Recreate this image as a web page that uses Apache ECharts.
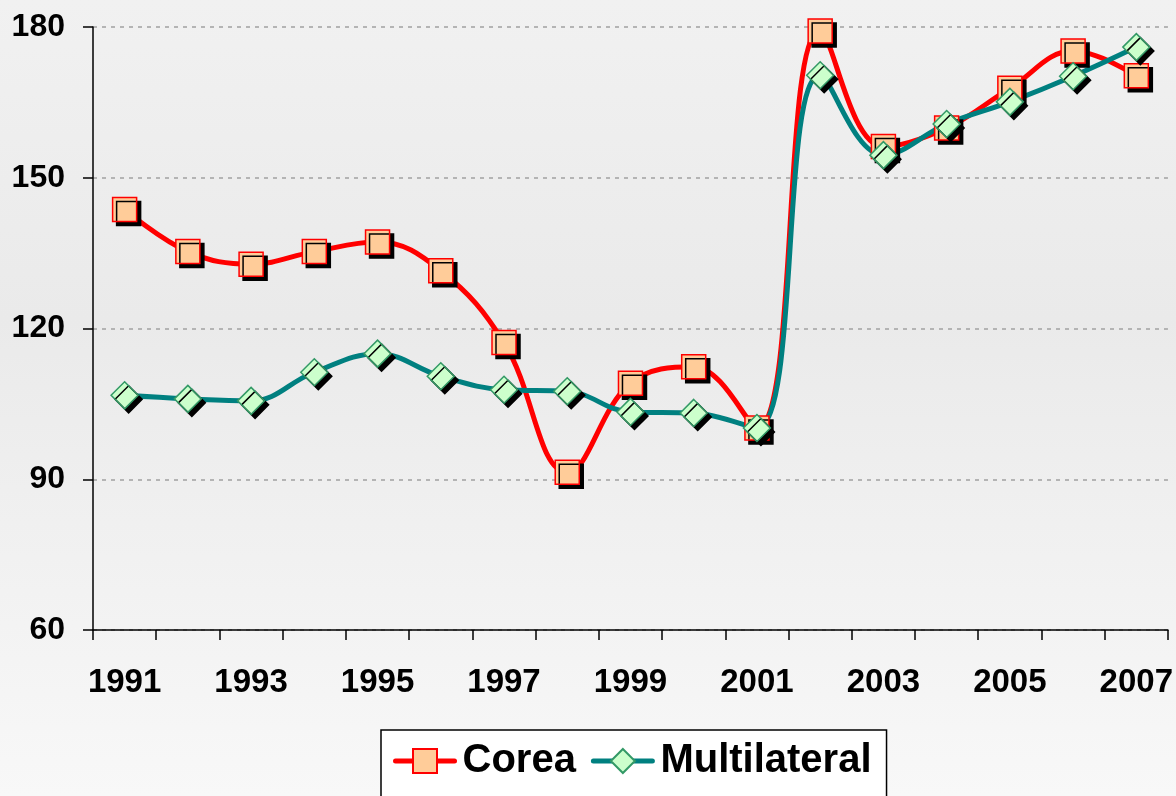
<!DOCTYPE html>
<html>
<head>
<meta charset="utf-8">
<script src="https://cdn.jsdelivr.net/npm/echarts@6/dist/echarts.min.js"></script>
<style>
  html, body { margin: 0; padding: 0; }
  #chart { width: 1176px; height: 796px; }
</style>
</head>
<body>
<div id="chart"></div>
<script>
// Chart data
const years = ['1991', '1992', '1993', '1994', '1995', '1996', '1997', '1998', '1999',
               '2000', '2001', '2002', '2003', '2004', '2005', '2006', '2007'];
const corea = [143.7, 135.3, 132.8, 135.3, 137.2, 131.5, 117.2, 91.4, 109.1,
               112.4, 100.2, 179.2, 156.2, 159.9, 167.8, 175.2, 170.3];
const multilateral = [106.7, 106.0, 105.6, 111.3, 115.0, 110.5, 107.8, 107.5, 103.4,
                      103.2, 100.2, 170.4, 154.5, 160.7, 165.1, 170.2, 176.0];
const yTicks = { min: 60, max: 180, interval: 30 };

const chart = echarts.init(document.getElementById('chart'));

const font = '"Liberation Sans", Arial, sans-serif';

// black drop shadow used on the markers
const markerShadow = {
    shadowColor: '#000',
    shadowOffsetX: 4,
    shadowOffsetY: 4,
    shadowBlur: 0
};

const option = {
    backgroundColor: {
        type: 'linear', x: 0, y: 0, x2: 0, y2: 1,
        colorStops: [
            { offset: 0, color: '#f1f1f1' },
            { offset: 0.4, color: '#eaeaea' },
            { offset: 1, color: '#f8f8f8' }
        ]
    },
    animation: false,
    grid: {
        left: 93,
        right: 7,
        top: 27,
        bottom: 166
    },
    legend: {
        top: 730,
        left: 381,
        backgroundColor: '#ffffff',
        borderColor: '#000000',
        borderWidth: 1.5,
        borderRadius: 0,
        padding: [11, 15, 30, 12],
        itemWidth: 59,
        itemHeight: 30,
        itemGap: 15,
        textStyle: {
            fontFamily: font,
            fontWeight: 'bold',
            fontSize: 40,
            color: '#000',
            padding: [0, 0, 0, 3]
        },
        itemStyle: {
            shadowColor: 'transparent',
            shadowOffsetX: 0,
            shadowOffsetY: 0,
            shadowBlur: 0
        },
        data: [
            { name: 'Corea', lineStyle: { width: 5, cap: 'round' } },
            { name: 'Multilateral', lineStyle: { width: 5, cap: 'round' } }
        ]
    },
    xAxis: {
        type: 'category',
        data: years,
        boundaryGap: true,
        axisLine: { lineStyle: { color: '#000', width: 1.5 } },
        axisTick: { show: true, interval: 0, length: 10, lineStyle: { color: '#000', width: 1.5 } },
        axisLabel: {
            interval: 1,
            margin: 36,
            fontFamily: font,
            fontWeight: 'bold',
            fontSize: 33,
            color: '#000'
        },
        splitLine: { show: false }
    },
    yAxis: {
        type: 'value',
        min: yTicks.min,
        max: yTicks.max,
        interval: yTicks.interval,
        axisLine: { show: true, lineStyle: { color: '#000', width: 1.5 } },
        axisTick: { show: true, length: 10, lineStyle: { color: '#000', width: 1.5 } },
        axisLabel: {
            margin: 28,
            fontFamily: font,
            fontWeight: 'bold',
            fontSize: 32,
            color: '#000'
        },
        splitLine: {
            show: true,
            lineStyle: { color: '#b4b4b4', width: 2, type: [4, 5] }
        }
    },
    series: [
        {
            name: 'Corea',
            type: 'line',
            data: corea,
            smooth: 0.4,
            symbol: 'rect',
            symbolSize: 24,
            lineStyle: { color: '#ff0000', width: 5 },
            itemStyle: Object.assign({
                color: '#ffcc99',
                borderColor: '#ff0000',
                borderWidth: 1.5
            }, markerShadow)
        },
        {
            name: 'Multilateral',
            type: 'line',
            data: multilateral,
            smooth: 0.4,
            symbol: 'diamond',
            symbolSize: 27,
            lineStyle: { color: '#008080', width: 5 },
            itemStyle: Object.assign({
                color: '#ccffcc',
                borderColor: '#339966',
                borderWidth: 1.5
            }, markerShadow)
        }
    ]
};

chart.setOption(option);
</script>
</body>
</html>
